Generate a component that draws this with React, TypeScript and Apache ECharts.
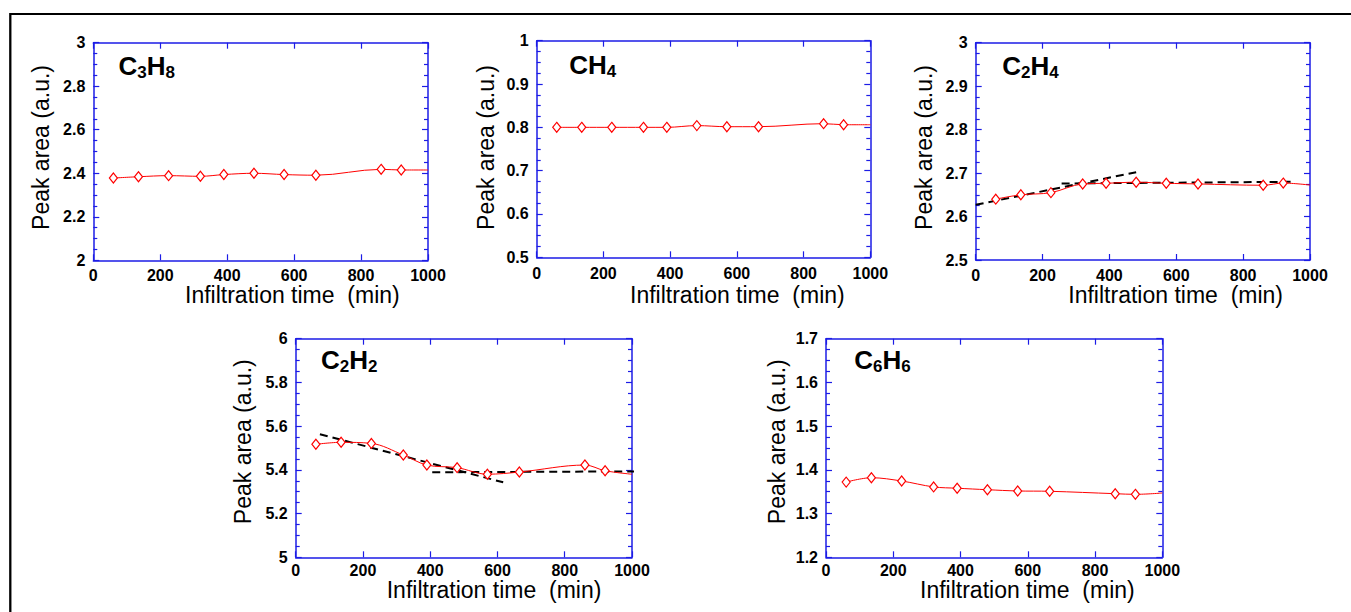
import React, { useEffect, useRef } from 'react';
import * as echarts from 'echarts';

const FONT = 'Arial, "Liberation Sans", Helvetica, sans-serif';
const AXIS_BLUE = '#1c1ce6';
const RED = '#ff0000';

// Infiltration times (min); last entry is the end of the drawn curve (no marker)
const timeMin = [60, 135, 225, 320, 390, 480, 570, 665, 860, 920, 1000];
const c3h8 = [2.378, 2.384, 2.389, 2.386, 2.394, 2.4, 2.394, 2.391, 2.418, 2.415, 2.415];
const ch4 = [0.8, 0.8, 0.8, 0.8, 0.8, 0.804, 0.8015, 0.8015, 0.8085, 0.806, 0.806];
const c2h4 = [2.64, 2.65, 2.655, 2.675, 2.6765, 2.679, 2.6765, 2.675, 2.672, 2.677, 2.6725];
const c2h2 = [5.517, 5.526, 5.521, 5.468, 5.422, 5.41, 5.38, 5.39, 5.422, 5.396, 5.38];
const c6h6 = [1.372, 1.382, 1.3745, 1.361, 1.358, 1.3546, 1.3517, 1.351, 1.3455, 1.344, 1.347];

// Dashed guide lines
const c2h4FitA = [[0, 2.627], [480, 2.702]];
const c2h4FitB = [[257, 2.676], [950, 2.68]];
const c2h2FitA = [[72, 5.563], [617, 5.343]];
const c2h2FitB = [[406, 5.389], [1012, 5.393]];

const xTicks = { min: 0, max: 1000, interval: 200 };
const xTitle = 'Infiltration time  (min)';
const yTitle = 'Peak area (a.u.)';

const panels = [
  { formula: '{m|C}{s|3}{m|H}{s|8}', values: c3h8, yMin: 2, yMax: 3, yStep: 0.2, fits: [] as number[][][],
    grid: { left: 93.3, top: 42.7, width: 334.7, height: 217.6 }, labelMargin: 9,
    titlePos: [118.5, 52.7], xTitlePos: [185, 295], yTitlePos: [40.5, 147.5] },
  { formula: '{m|CH}{s|4}', values: ch4, yMin: 0.5, yMax: 1, yStep: 0.1, fits: [] as number[][][],
    grid: { left: 536.7, top: 40.7, width: 333.6, height: 216.6 }, labelMargin: 10,
    titlePos: [569.3, 52], xTitlePos: [630, 295], yTitlePos: [485.5, 147.5] },
  { formula: '{m|C}{s|2}{m|H}{s|4}', values: c2h4, yMin: 2.5, yMax: 3, yStep: 0.1, fits: [c2h4FitA, c2h4FitB],
    grid: { left: 975.7, top: 42.7, width: 334.3, height: 217.3 }, labelMargin: 9,
    titlePos: [1002.3, 52.7], xTitlePos: [1068.3, 295], yTitlePos: [924, 147.5] },
  { formula: '{m|C}{s|2}{m|H}{s|2}', values: c2h2, yMin: 5, yMax: 6, yStep: 0.2, fits: [c2h2FitA, c2h2FitB],
    grid: { left: 295.7, top: 338.7, width: 336.3, height: 218.6 }, labelMargin: 7,
    titlePos: [321, 346.7], xTitlePos: [386.7, 590], yTitlePos: [243, 441.7] },
  { formula: '{m|C}{s|6}{m|H}{s|6}', values: c6h6, yMin: 1.2, yMax: 1.7, yStep: 0.1, fits: [] as number[][][],
    grid: { left: 826, top: 338.7, width: 336.3, height: 218.6 }, labelMargin: 7,
    titlePos: [854.3, 346.7], xTitlePos: [920, 590], yTitlePos: [776.5, 441.7] },
];

export default function App() {
  const ref = useRef<HTMLDivElement>(null);

  useEffect(() => {
    if (!ref.current) return;
    const chart = echarts.init(ref.current, undefined, { renderer: 'svg' });

    const axisLine = { show: true, onZero: false, lineStyle: { color: AXIS_BLUE, width: 1.5 } };
    const tickStyle = { color: AXIS_BLUE, width: 1.2 };
    const labelStyle = { color: '#000', fontWeight: 'bold', fontSize: 16, fontFamily: FONT, lineHeight: 12 };
    const grids: any[] = [];
    const xAxes: any[] = [];
    const yAxes: any[] = [];
    const series: any[] = [];
    const graphics: any[] = [
      { type: 'line', shape: { x1: 10, y1: 14, x2: 1351, y2: 14 }, style: { stroke: '#000', lineWidth: 2 } },
      { type: 'line', shape: { x1: 10.3, y1: 13, x2: 10.3, y2: 612 }, style: { stroke: '#000', lineWidth: 2.3 } },
    ];

    panels.forEach((p, i) => {
      grids.push({ ...p.grid, containLabel: false });
      xAxes.push({
        type: 'value', gridIndex: i, position: 'bottom', ...xTicks,
        axisLine, splitLine: { show: false },
        axisTick: { show: true, inside: true, length: 6, lineStyle: tickStyle },
        axisLabel: { show: true, margin: p.labelMargin, ...labelStyle, formatter: (v: number) => String(v) },
      });
      xAxes.push({
        type: 'value', gridIndex: i, position: 'top', ...xTicks,
        axisLine, splitLine: { show: false },
        axisTick: { show: true, inside: true, length: 6, lineStyle: tickStyle },
        axisLabel: { show: false },
      });
      const yCommon = {
        type: 'value', gridIndex: i, min: p.yMin, max: p.yMax, interval: p.yStep,
        axisLine, splitLine: { show: false },
        axisTick: { show: true, inside: true, length: 6, lineStyle: tickStyle },
        minorTick: { show: true, splitNumber: 4, length: 4, lineStyle: tickStyle },
      };
      yAxes.push({
        ...yCommon, position: 'left',
        axisLabel: { show: true, margin: 8, ...labelStyle, formatter: (v: number) => String(Math.round(v * 100) / 100) },
      });
      yAxes.push({ ...yCommon, position: 'right', axisLabel: { show: false } });

      const n = p.values.length;
      series.push({
        type: 'line', xAxisIndex: 2 * i, yAxisIndex: 2 * i,
        smooth: 0.35,
        symbol: 'diamond', symbolSize: [8, 10],
        itemStyle: { color: '#ffffff', borderColor: RED, borderWidth: 1.2 },
        lineStyle: { color: RED, width: 1 },
        z: 3,
        data: p.values.map((v, k) =>
          k === n - 1 ? { value: [timeMin[k], v], symbol: 'none' } : { value: [timeMin[k], v] }),
      });
      p.fits.forEach((f) => {
        series.push({
          type: 'line', xAxisIndex: 2 * i, yAxisIndex: 2 * i,
          symbol: 'none', clip: false, z: 2,
          lineStyle: { color: '#000', width: 2, type: [8, 5] },
          data: f,
        });
      });

      graphics.push({
        type: 'text', left: p.titlePos[0], top: p.titlePos[1],
        style: {
          text: p.formula,
          rich: {
            m: { fontSize: 26, fontWeight: 'bold', fontFamily: FONT, fill: '#000', lineHeight: 30 },
            s: { fontSize: 17, fontWeight: 'bold', fontFamily: FONT, fill: '#000', lineHeight: 17, verticalAlign: 'bottom' },
          },
        },
      });
      graphics.push({
        type: 'text', x: p.xTitlePos[0], y: p.xTitlePos[1],
        style: { text: xTitle, fontSize: 23, lineHeight: 18, fontFamily: FONT, fill: '#000', align: 'left', verticalAlign: 'middle' },
      });
      graphics.push({
        type: 'text', x: p.yTitlePos[0], y: p.yTitlePos[1], rotation: Math.PI / 2,
        style: { text: yTitle, fontSize: 23, fontFamily: FONT, fill: '#000', align: 'center', verticalAlign: 'middle' },
      });
    });

    chart.setOption({
      animation: false,
      backgroundColor: '#ffffff',
      grid: grids,
      xAxis: xAxes,
      yAxis: yAxes,
      series,
      graphic: graphics,
    });

    return () => chart.dispose();
  }, []);

  return (
    <div
      ref={ref}
      style={{ position: 'absolute', left: 0, top: 0, width: 1351, height: 612, background: '#fff' }}
    />
  );
}
